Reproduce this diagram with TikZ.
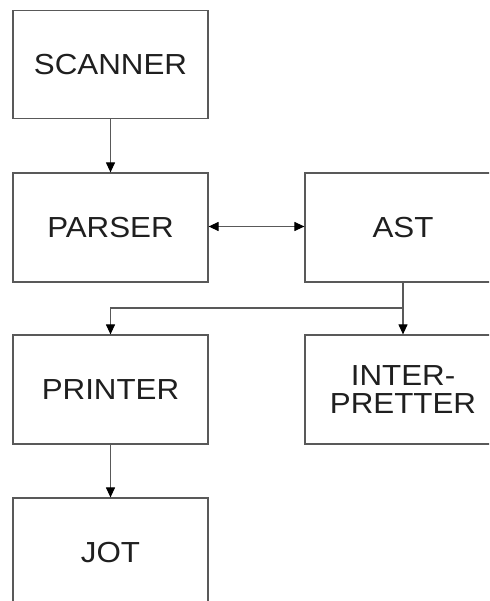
\documentclass[tikz,border=0pt]{standalone}
\usepackage{fontspec}
\setmainfont[FakeStretch=1.08]{Liberation Sans}
\usetikzlibrary{arrows.meta}
\begin{document}
\begin{tikzpicture}[x=1pt,y=-1pt,
  box/.style={draw=black!65,line width=1.2pt,minimum width=195pt,minimum height=108pt,inner sep=0pt,
    text=black!88,font=\fontsize{29}{28}\selectfont,align=center},
  conn/.style={draw=black!65,line width=1.1pt,-{Triangle[length=10pt,width=9pt,black]}},
  dconn/.style={draw=black!65,line width=1.1pt,{Triangle[length=10pt,width=9pt,black]}-{Triangle[length=10pt,width=9pt,black]}}]
\useasboundingbox (0,0) rectangle (489,601);
\clip (0,0) rectangle (489,601);
\fill[white] (0,0) rectangle (489,601);
\node[box] (scanner) at (110.5,64.5) {SCANNER};
\node[box,minimum height=109pt] (parser) at (110.5,227.5) {PARSER};
\node[box,minimum height=109pt,minimum width=196pt] (ast) at (403,227.5) {AST};
\node[box,minimum height=109pt] (printer) at (110.5,389.5) {PRINTER};
\node[box,minimum height=109pt,minimum width=196pt] (interp) at (403,389.5) {INTER-\\PRETTER};
\node[box,minimum height=109pt] (jot) at (110.5,552.5) {JOT};
\coordinate (split) at (403,308);
\draw[conn] (scanner) -- (parser);
\draw[dconn] (parser.east |- 0,226.5) -- (ast.west |- 0,226.5);
\draw[conn] (ast.south) -- (split) -- (interp.north);
\draw[conn] (split) -| (printer.north);
\draw[conn] (printer) -- (jot);
\end{tikzpicture}
\end{document}
